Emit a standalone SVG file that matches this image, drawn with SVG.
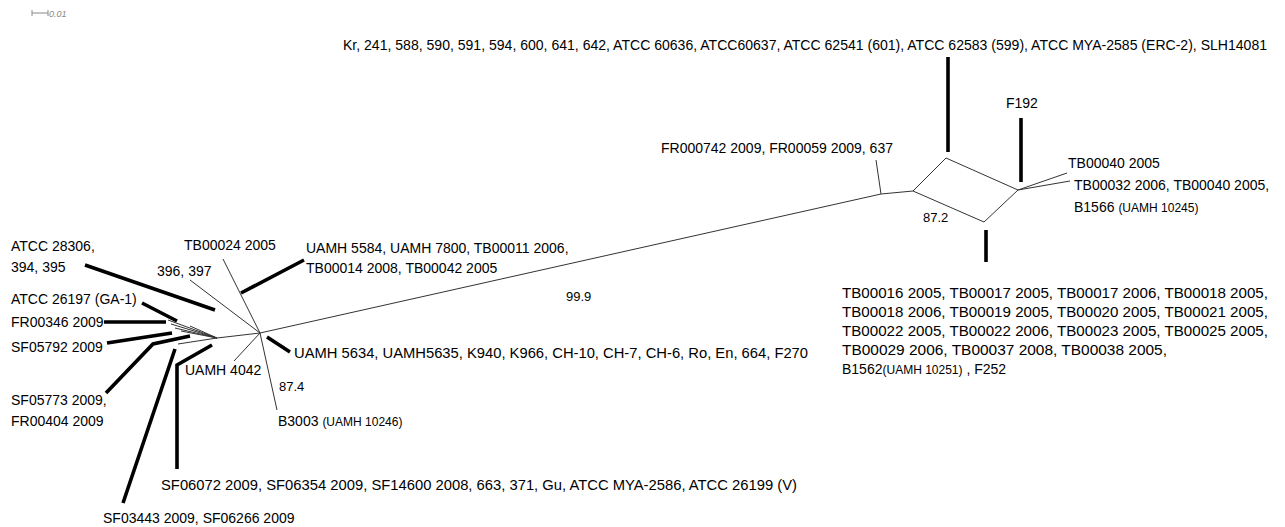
<svg xmlns="http://www.w3.org/2000/svg" width="1285" height="527" viewBox="0 0 1285 527">
<style>
text{font-family:"Liberation Sans",Arial,sans-serif;font-size:14px;fill:#000}
.s{font-size:12px}
.b{font-size:13px}
.thin{stroke:#333;stroke-width:1;fill:none}
.thick{stroke:#000;stroke-width:3.6;fill:none}
</style>
<rect width="1285" height="527" fill="#fff"/>
<g id="scale">
<path d="M32 13H48M32 10V16M48 10V16" stroke="#888" stroke-width="1" fill="none"/>
<text x="49" y="17" style="font-size:9px;font-style:italic;fill:#888">0.01</text>
</g>
<g id="connectors">
<path class="thin" d="M217 338L260 333L881 194L913 191"/>
<path class="thin" d="M881 194L876 160"/>
<path class="thin" d="M913 191L946 158L1018 190L984 222Z"/>
<path class="thin" d="M1018 190L1067 173M1018 190L1070 181"/>
<path class="thin" d="M260 333L223 259M260 333L190 280M260 333L234 361M260 333L277 410"/>
<path class="thin" d="M217 338L168 320M217 338L171 324M217 338L175 328M217 338L181 331M217 338L190 326M217 338L178 344"/>
<path class="thick" d="M948 57V152M1021 118V182M986 230V262"/>
<path class="thick" d="M241 293L304 260M267 337L290 352"/>
<path class="thick" d="M85 265L215 310M142 303L177 321M104 322H166M107 343L172 333M106 393L153 344L190 336M123 503L175 349M177 469V365L212 345"/>
</g>
<g id="n-top"><text x="343" y="50" textLength="924" lengthAdjust="spacingAndGlyphs">Kr, 241, 588, 590, 591, 594, 600, 641, 642, ATCC 60636, ATCC60637, ATCC 62541 (601), ATCC 62583 (599), ATCC MYA-2585 (ERC-2), SLH14081</text></g>
<g id="n-f192"><text x="1006" y="108">F192</text></g>
<g id="n-tb40"><text x="1068" y="168">TB00040 2005</text></g>
<g id="n-tb32"><text x="1074" y="190">TB00032 2006, TB00040 2005,</text><text x="1074" y="212">B1566 <tspan class="s">(UAMH 10245)</tspan></text></g>
<g id="n-fr742"><text x="661" y="153">FR000742 2009, FR00059 2009, 637</text></g>
<g id="l-872"><text class="b" x="923" y="222">87.2</text></g>
<g id="n-tb16">
<text x="842" y="298" textLength="426" lengthAdjust="spacingAndGlyphs">TB00016 2005, TB00017 2005, TB00017 2006, TB00018 2005,</text>
<text x="842" y="317" textLength="426" lengthAdjust="spacingAndGlyphs">TB00018 2006, TB00019 2005, TB00020 2005, TB00021 2005,</text>
<text x="842" y="336" textLength="426" lengthAdjust="spacingAndGlyphs">TB00022 2005, TB00022 2006, TB00023 2005, TB00025 2005,</text>
<text x="842" y="355" textLength="325" lengthAdjust="spacingAndGlyphs">TB00029 2006, TB00037 2008, TB00038 2005,</text>
<text x="842" y="374">B1562<tspan class="s">(UAMH 10251)</tspan> , F252</text>
</g>
<g id="l-999"><text class="b" x="566" y="301">99.9</text></g>
<g id="n-uamh5584"><text x="306" y="253">UAMH 5584, UAMH 7800, TB00011 2006,</text><text x="306" y="273">TB00014 2008, TB00042 2005</text></g>
<g id="n-tb24"><text x="184" y="250">TB00024 2005</text></g>
<g id="n-396"><text x="157" y="276">396, 397</text></g>
<g id="n-atcc28306"><text x="11" y="251">ATCC 28306,</text><text x="11" y="272">394, 395</text></g>
<g id="n-atcc26197"><text x="11" y="304">ATCC 26197 (GA-1)</text></g>
<g id="n-fr346"><text x="11" y="327">FR00346 2009</text></g>
<g id="n-sf5792"><text x="11" y="352">SF05792 2009</text></g>
<g id="n-sf5773"><text x="11" y="405">SF05773 2009,</text><text x="11" y="426">FR00404 2009</text></g>
<g id="n-uamh4042"><text x="185" y="375">UAMH 4042</text></g>
<g id="l-874"><text class="b" x="279" y="391">87.4</text></g>
<g id="n-b3003"><text x="278" y="426">B3003 <tspan class="s">(UAMH 10246)</tspan></text></g>
<g id="n-uamh5634"><text x="294" y="358" textLength="514" lengthAdjust="spacingAndGlyphs">UAMH 5634, UAMH5635, K940, K966, CH-10, CH-7, CH-6, Ro, En, 664, F270</text></g>
<g id="n-sf6072"><text x="161" y="490" textLength="636" lengthAdjust="spacingAndGlyphs">SF06072 2009, SF06354 2009, SF14600 2008, 663, 371, Gu, ATCC MYA-2586, ATCC 26199 (V)</text></g>
<g id="n-sf3443"><text x="103" y="523">SF03443 2009, SF06266 2009</text></g>
</svg>
